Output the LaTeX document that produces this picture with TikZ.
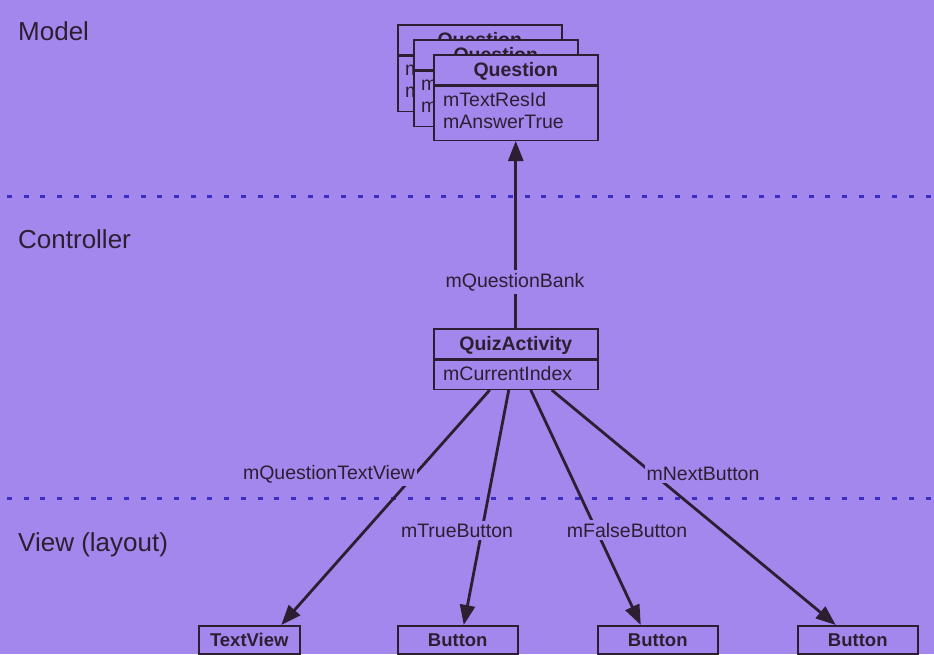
\documentclass[tikz,border=0pt]{standalone}
\usepackage{fontspec}
\setmainfont{Liberation Sans}
\usetikzlibrary{arrows.meta}
\definecolor{bg}{RGB}{163,135,236}
\definecolor{ink}{RGB}{45,30,50}
\definecolor{dots}{RGB}{60,45,195}
\begin{document}
\begin{tikzpicture}[x=1pt,y=-1pt,
  frame/.style={draw=ink,line width=1.5pt,fill=bg,inner sep=0pt,anchor=north west},
  hdr/.style={frame,minimum width=164pt,minimum height=30pt,text=ink,
    font=\fontsize{19.5}{22}\selectfont\bfseries,text height=14pt,text depth=0pt},
  bodybox/.style={frame,minimum width=164pt},
  field/.style={anchor=base west,inner sep=0pt,text=ink,font=\fontsize{19.5}{22}\selectfont},
  viewbox/.style={frame,minimum height=28pt,text=ink,
    font=\fontsize{18.5}{22}\selectfont\bfseries,text height=13.5pt,text depth=0pt},
  section/.style={anchor=base west,inner sep=0pt,text=ink,font=\fontsize{26}{30}\selectfont},
  lbl/.style={anchor=base,fill=bg,inner xsep=2pt,inner ysep=3pt,text=ink,font=\fontsize{19.5}{22}\selectfont},
  arr/.style={draw=ink,line width=2.8pt,-{Triangle[length=20pt,width=15pt]}},
  sep/.style={draw=dots,line width=3pt,dash pattern=on 5pt off 11.7pt}
]
\fill[bg] (0,0) rectangle (934,654);
\useasboundingbox (0,0) rectangle (934,654);

% separators
\coordinate (s1a) at (7,196); \coordinate (s1b) at (932,196);
\coordinate (s2a) at (7,498); \coordinate (s2b) at (932,498);
\draw[sep] (s1a) -- (s1b);
\draw[sep] (s2a) -- (s2b);

% section titles
\node[section] (tModel) at (18,40) {Model};
\node[section] (tCtrl) at (18,248) {Controller};
\node[section] (tView) at (18,551) {View (layout)};

% stacked Question boxes
\node[hdr] (q1h) at (397,24) {Question};
\node[bodybox,minimum height=55pt] (q1b) at (q1h.south west) {};
\node[field] (q1f1) at (405,75) {m};
\node[field] (q1f2) at (405,97) {m};

\node[hdr] (q2h) at (413,39) {Question};
\node[bodybox,minimum height=55pt] (q2b) at (q2h.south west) {};
\node[field] (q2f1) at (421,90) {m};
\node[field] (q2f2) at (421,112) {m};

\node[hdr] (q3h) at (433,54) {Question};
\node[bodybox,minimum height=54pt] (q3b) at (q3h.south west) {};
\node[field] (q3f1) at (443,106) {mTextResId};
\node[field] (q3f2) at (443,128) {mAnswerTrue};

% QuizActivity
\node[hdr] (qah) at (433,328) {QuizActivity};
\node[bodybox,minimum height=29pt] (qab) at (qah.south west) {};
\node[field] (qaf) at (443,380) {mCurrentIndex};

% view boxes
\node[viewbox,minimum width=101pt] (tv) at (198,625) {TextView};
\node[viewbox,minimum width=120pt] (b1) at (397,625) {Button};
\node[viewbox,minimum width=120pt] (b2) at (597,625) {Button};
\node[viewbox,minimum width=120pt] (b3) at (797,625) {Button};

% connectors
\draw[arr] (qah.north) -- (q3b.south);
\draw[arr] ([xshift=-26pt]qab.south) -- ([xshift=32pt]tv.north);
\draw[arr] ([xshift=-7pt]qab.south) -- ([xshift=6pt]b1.north);
\draw[arr] ([xshift=15pt]qab.south) -- ([xshift=-17pt]b2.north);
\draw[arr] ([xshift=36pt]qab.south) -- ([xshift=-22pt]b3.north);

% connector labels
\node[lbl] (lBank) at (515,287) {mQuestionBank};
\node[lbl] (lTV) at (329,479) {mQuestionTextView};
\node[lbl] (lTrue) at (457,537) {mTrueButton};
\node[lbl] (lFalse) at (627,537) {mFalseButton};
\node[lbl] (lNext) at (703,480) {mNextButton};
\end{tikzpicture}
\end{document}
